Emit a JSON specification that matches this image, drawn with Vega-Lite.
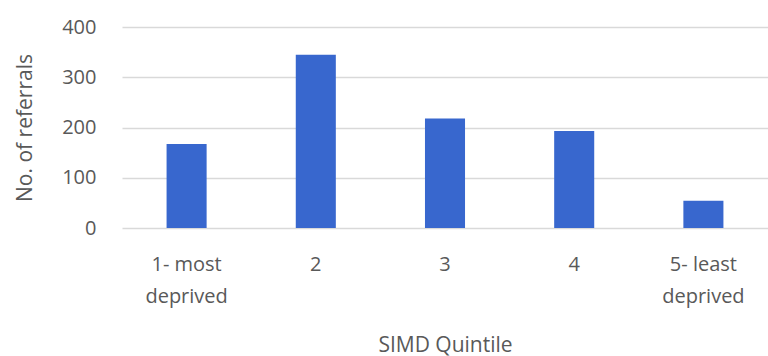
{
  "$schema": "https://vega.github.io/schema/vega-lite/v6.json",
  "width": 646,
  "height": 201,
  "autosize": {"type": "none"},
  "padding": {"left": 122, "top": 27, "right": 0, "bottom": 128},
  "background": "white",
  "config": {
    "view": {"stroke": null},
    "font": "Open Sans",
    "axis": {"labelColor": "#595959", "titleColor": "#595959", "labelFont": "Open Sans", "titleFont": "Open Sans", "titleFontWeight": "normal"}
  },
  "data": {
    "values": [
      {"quintile": "1- most|deprived", "referrals": 167},
      {"quintile": "2", "referrals": 345},
      {"quintile": "3", "referrals": 218},
      {"quintile": "4", "referrals": 193},
      {"quintile": "5- least|deprived", "referrals": 54}
    ]
  },
  "mark": {"type": "bar", "color": "#3867CE"},
  "encoding": {
    "x": {
      "field": "quintile",
      "type": "nominal",
      "sort": null,
      "scale": {"paddingInner": 0.69, "paddingOuter": 0.345},
      "axis": {
        "title": "SIMD Quintile",
        "labelAngle": 0,
        "labelExpr": "split(datum.label, '|')",
        "labelFontSize": 20,
        "labelLineHeight": 32,
        "labelPadding": 26,
        "ticks": false,
        "domain": false,
        "titleFontSize": 21,
        "titlePadding": 28
      }
    },
    "y": {
      "field": "referrals",
      "type": "quantitative",
      "scale": {"domain": [0, 400]},
      "axis": {
        "title": "No. of referrals",
        "values": [0, 100, 200, 300, 400],
        "labelFontSize": 20,
        "labelPadding": 26,
        "ticks": false,
        "domain": false,
        "grid": true,
        "gridColor": "#d9d9d9",
        "gridWidth": 1.5,
        "titleFontSize": 21,
        "titlePadding": 26
      }
    }
  }
}
